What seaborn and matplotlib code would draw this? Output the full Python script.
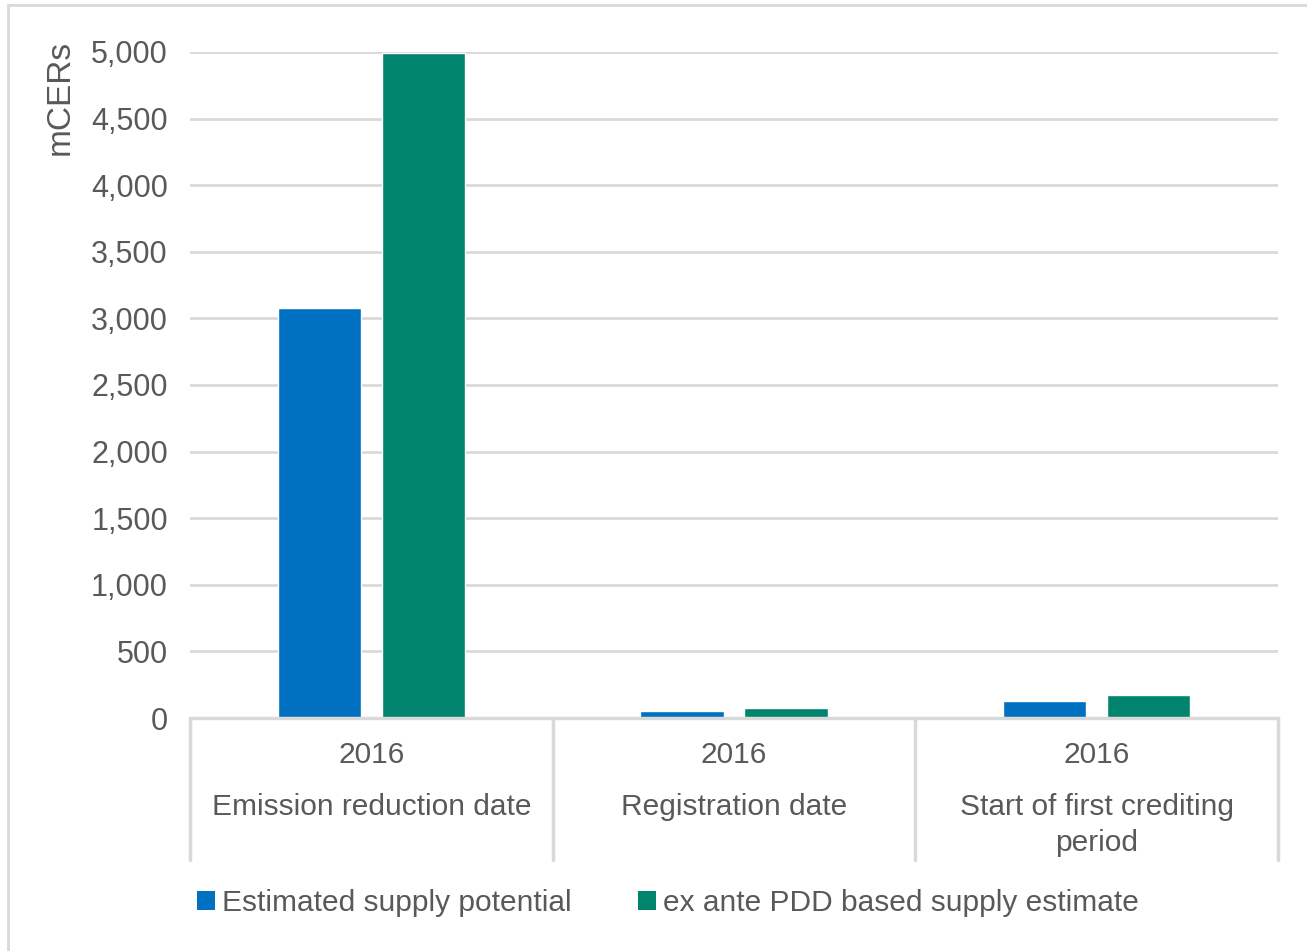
import pandas as pd
import matplotlib.pyplot as plt
import seaborn as sns
from matplotlib.patches import Patch
from matplotlib.lines import Line2D

# --- DATA ---
categories = ['Emission reduction date', 'Registration date', 'Start of first crediting\nperiod']
year_labels = ['2016', '2016', '2016']
series = ['Estimated supply potential', 'ex ante PDD based supply estimate']
supply_potential = [3080, 50, 125]
pdd_estimate = [4990, 73, 175]
y_ticks = [0, 500, 1000, 1500, 2000, 2500, 3000, 3500, 4000, 4500, 5000]

COLORS = ['#0070C0', '#00846D']
TEXT = '#595959'
GRID = '#D9D9D9'

df = pd.DataFrame({
    'category': categories * 2,
    'series': [series[0]] * 3 + [series[1]] * 3,
    'value': supply_potential + pdd_estimate,
})

sns.set_style('white')
plt.rcParams['font.family'] = ['Liberation Sans', 'DejaVu Sans']

fig = plt.figure(figsize=(13.07, 9.51), dpi=100)
ax = fig.add_axes([190 / 1307, 1 - 718 / 951, (1278 - 190) / 1307, 666 / 951])

sns.barplot(data=df, x='category', y='value', hue='series', order=categories,
            hue_order=series, palette=COLORS, width=0.573, gap=0.2,
            saturation=1, legend=False, ax=ax, zorder=3)

ax.set_xlim(-0.5, 2.5)
ax.set_ylim(0, 5000)
ax.set_yticks(y_ticks)
ax.set_yticklabels([f'{v:,}' for v in y_ticks], fontsize=22, color=TEXT)
ax.tick_params(axis='y', length=0, pad=16)
ax.set_xticks([])
ax.set_xlabel('')
ax.set_ylabel('')
ax.yaxis.grid(True, color=GRID, lw=2, zorder=0)
for s in ax.spines.values():
    s.set_visible(False)

# category separators and labels under the axis
trans = ax.get_xaxis_transform()
ax.axhline(0, color=GRID, lw=2.5, zorder=4, clip_on=False)
for x in [-0.5, 0.5, 1.5, 2.5]:
    ax.plot([x, x], [0, -142 / 666], color=GRID, lw=2.5, transform=trans, clip_on=False)
for i, (yr, cat) in enumerate(zip(year_labels, categories)):
    ax.text(i, -37 / 666, yr, transform=trans, ha='center', va='center', fontsize=21.5, color=TEXT)
    ax.text(i, -75 / 666, cat, transform=trans, ha='center', va='top', fontsize=21.5,
            color=TEXT, linespacing=1.35)

fig.text(60 / 1307, 1 - 97 / 951, 'mCERs', rotation=90, ha='center', va='center',
         fontsize=24, color=TEXT)

handles = [Patch(facecolor=c, edgecolor='none') for c in COLORS]
fig.legend(handles, series, loc='center', bbox_to_anchor=(668 / 1307, 1 - 903 / 951),
           ncol=2, frameon=False, fontsize=21.5, labelcolor=TEXT, handlelength=0.6,
           handleheight=0.6, handletextpad=0.25, columnspacing=2.2)

# chart-area border (only left and top edges visible in the crop)
fig.add_artist(Line2D([8 / 1307, 8 / 1307], [0, 1 - 5 / 951], transform=fig.transFigure,
                      color=GRID, lw=2))
fig.add_artist(Line2D([8 / 1307, 1], [1 - 5 / 951, 1 - 5 / 951], transform=fig.transFigure,
                      color=GRID, lw=2))

fig.savefig('out.png', dpi=100)
